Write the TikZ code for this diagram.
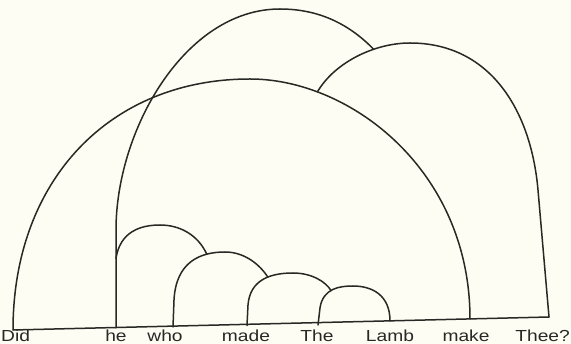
\documentclass[tikz,border=0pt]{standalone}
\usepackage{xcolor}
\usepackage{fontspec}
\newfontfamily\tangan[FakeStretch=1.2]{Liberation Sans}
\usepackage{tikz}
\usetikzlibrary{positioning}
\definecolor{kertas}{RGB}{254,253,243}
\definecolor{tinta}{RGB}{40,40,36}

\begin{document}
\begin{tikzpicture}[x=1pt, y=-1pt,
    kata/.style={font=\tangan\fontsize{16}{16}\selectfont, text=tinta,
                 anchor=base, inner sep=0pt},
    busur/.style={draw=tinta, line width=1.5pt, line join=round, line cap=round}
  ]
    \fill[kertas] (0,0) rectangle (571,344);
    \useasboundingbox (0,0) rectangle (571,344);

    % kata-kata
    \node[kata, anchor=base west] (did) at (1,342) {Did};
    \node[kata] (he) at (116,342) {he};
    \node[kata] (who) at (165,342) {who};
    \node[kata] (made) at (246,342) {made};
    \node[kata] (the) at (317,342) {The};
    \node[kata] (lamb) at (390,342) {Lamb};
    \node[kata] (make) at (466,342) {make};
    \node[kata, anchor=base east] (thee) at (570,342) {Thee?};

    % kaki busur
    \coordinate (kDid) at (13,330);
    \coordinate (kHe) at (116,328);
    \coordinate (kWho) at (173,327);
    \coordinate (kMade) at (247,325.5);
    \coordinate (kThe) at (318,325);
    \coordinate (kLamb) at (390,321);
    \coordinate (kMake) at (470,319);
    \coordinate (kThee) at (549,317);

    \draw[busur] (kDid) -- (kThee);
    % busur besar
    \draw[busur] (kDid) .. controls (13,180) and (110,79) .. (250,79)
      .. controls (350,79) and (470,170) .. (kMake) coordinate[pos=0.22] (t2);
    \draw[busur] (t2) .. controls (335,62) and (375,43) .. (410,43)
      coordinate[pos=0.66] (t1)
      .. controls (490,43) and (531,110) .. (538,190) -- (kThee);
    \draw[busur] (kHe) -- (116,230) coordinate[pos=0.71] (ta)
      .. controls (116,130) and (185,9) .. (280,9)
      .. controls (320,9) and (350,25) .. (t1);
    % busur kecil
    \draw[busur] (kThe) -- (320,308) .. controls (323,288) and (340,286) .. (353,286)
      coordinate[pos=0.45] (td)
      .. controls (372,286) and (390,295) .. (kLamb);
    \draw[busur] (kMade) -- (248,305) .. controls (250,280) and (270,273) .. (293,273)
      coordinate[pos=0.6] (tc)
      .. controls (312,273) and (326,282) .. (td);
    \draw[busur] (kWho) -- (174,300) .. controls (176,262) and (200,252) .. (225,252)
      coordinate[pos=0.75] (tb)
      .. controls (245,252) and (260,265) .. (tc);
    \draw[busur] (ta) .. controls (120,232) and (140,225) .. (160,225)
      .. controls (180,225) and (198,235) .. (tb);
  \end{tikzpicture}
\end{document}
